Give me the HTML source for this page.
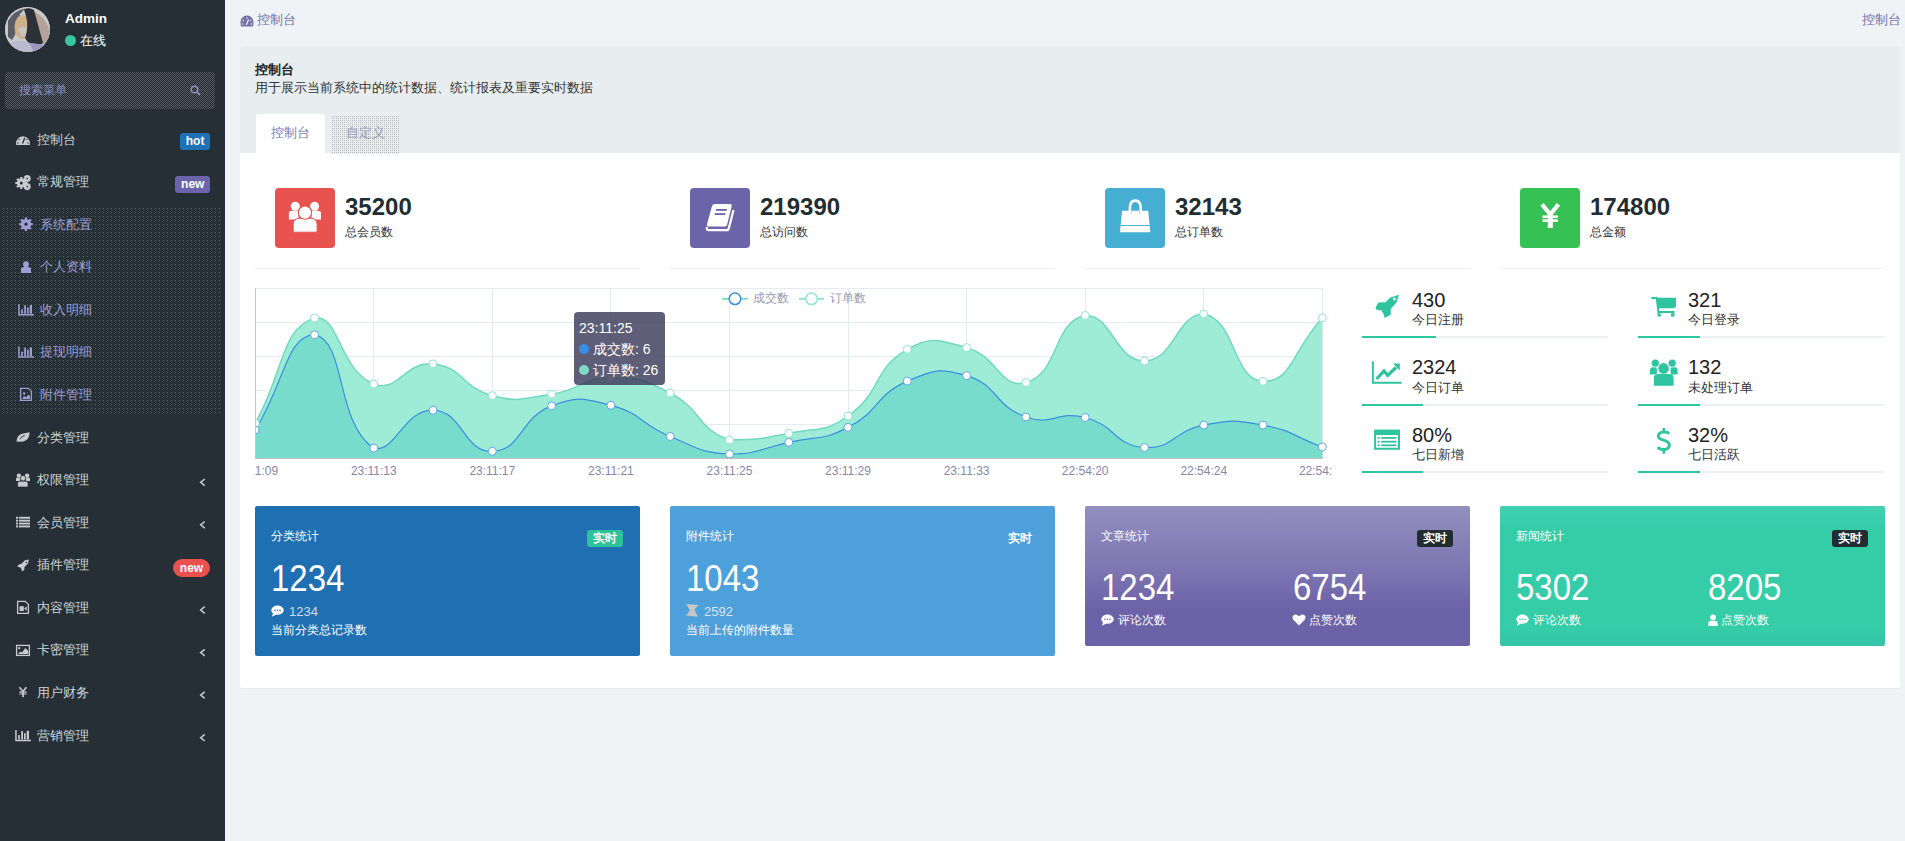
<!DOCTYPE html>
<html><head><meta charset="utf-8"><title>控制台</title><style>
*{box-sizing:border-box;margin:0;padding:0}
html,body{width:1905px;height:841px;overflow:hidden}
body{position:relative;background:#eff3f6;font-family:"Liberation Sans",sans-serif;color:#333;font-size:13px}
.abs{position:absolute}
#side{position:absolute;left:0;top:0;width:225px;height:841px;background:#252f35}
.avatar{left:5px;top:7px;width:45px;height:45px;border-radius:50%;overflow:hidden;background:#b9b6bd}
.uname{left:65px;top:9.5px;font-size:13.5px;font-weight:bold;color:#fff;line-height:18px}
.online{left:65px;top:32px;font-size:13px;color:#fff;line-height:18px}
.online i{display:inline-block;width:11px;height:11px;border-radius:50%;background:#38c6a0;vertical-align:-1px;margin-right:4px}
.search{left:5px;top:72px;width:210px;height:37px;border-radius:4px;overflow:hidden;background:#3b4349}
.search span{position:absolute;left:14px;top:11px;font-size:12px;color:#8a8fbf;line-height:14px}
.mi{position:absolute;left:0;width:225px;height:20px;line-height:20px;font-size:13px;color:#ccd3d6}
.mi .ic{position:absolute;left:16px;top:3px;width:14px;height:14px}
.mi .tx{position:absolute;left:37px;top:0}
.sub{color:#9f9dd3}
.sub .ic{left:19px}
.sub .tx{left:40px}
.badge{position:absolute;right:15px;top:3.5px;height:17px;line-height:17px;padding:0 5.6px;border-radius:3px;font-size:12px;font-weight:bold;color:#fff}
.arr{position:absolute;left:199px;top:4px;width:8px;height:12px}
#subbg{left:0;top:207px;width:225px;height:208px;background:#29343a}
.crumb{left:240px;top:11px;font-size:13px;color:#7470ab;line-height:18px}
.crumbr{right:4.5px;top:11px;font-size:13px;color:#7470ab;line-height:18px}
#panel{left:240px;top:46px;width:1660px;height:642px;background:#fff;border-radius:2px;box-shadow:0 1px 1px rgba(0,0,0,.04)}
#phead{left:0;top:0;width:1660px;height:107px;background:#e8edf0;border-radius:2px 2px 0 0}
.ptitle{left:15px;top:15px;font-size:13px;font-weight:bold;color:#222;line-height:18px}
.pdesc{left:15px;top:32.5px;font-size:13px;color:#333;line-height:18px}
.tab1{left:16px;top:68px;width:69px;height:39px;background:#fff;border-radius:3px 3px 0 0}
.tab2{left:91px;top:68.5px;width:69px;height:38.5px;background:#e1e4e8}
.tab1 span,.tab2 span{position:absolute;left:15px;top:12px;font-size:13px;line-height:14px;color:#7c79b5}
.tab2 span{color:#9a98b8;top:11.5px}
.sbox{width:60px;height:60px;border-radius:4px}
.snum{font-size:24px;font-weight:bold;color:#222d32;line-height:28px}
.slab{font-size:12px;color:#333;line-height:14px}
.sline{height:1px;background:#eef1f4}
.rnum{font-size:20px;color:#222;line-height:22px}
.rlab{font-size:13px;color:#333;line-height:16px}
.pbar{height:2px;background:#eef1f4}
.pbar i{position:absolute;left:0;top:0;height:2px;background:#2ec7a2}
.card{border-radius:2px;color:#fff}
.ctitle{position:absolute;left:16px;top:23px;font-size:12px;line-height:14px}
.cbig{position:absolute;font-size:33px;line-height:36px;transform:scaleY(1.12);transform-origin:0 0}
.csm{position:absolute;font-size:13px;line-height:16px}
.cbadge{position:absolute;width:36px;height:17px;line-height:17px;text-align:center;border-radius:3px;font-size:12px;font-weight:bold}
.axl{position:absolute;top:463.5px;font-size:12px;color:#8786ab;line-height:14px;width:80px;text-align:center}
</style></head>
<body>
<div id="side"><div class="abs avatar"><svg width="45" height="45" viewBox="0 0 45 45"><rect width="45" height="45" fill="#c9c9cb"/><path d="M3,14 Q8,4 20,1.5 L15,7 L10,28 L7,33 L3,30 Z" fill="#5a5d66"/><path d="M28,4 Q40,9 45,24 L45,38 L39,41 L33,24 Z" fill="#b3a39a"/><ellipse cx="17.5" cy="20" rx="8" ry="12" fill="#cdb08c"/><path d="M19,2.5 Q24,0 29,3 L38,36 L35,38 L24,37 L20,31 Q24,20 21,9 Z" fill="#2b3137"/><path d="M13,22 Q17,18 22,21 L20,30 Q15,30 13,22 Z" fill="#c9c3c0"/><path d="M4,37 Q14,31 25,36 L41,38 Q40,45 28,46 L8,46 Z" fill="#bcbad0"/><path d="M24,36 L30,46 L36,46 L38,38 Z" fill="#9c97c0"/></svg></div><div class="abs uname">Admin</div><div class="abs online"><i></i>在线</div><div class="abs search"><svg style="position:absolute;left:0;top:0" width="210" height="37"><defs><pattern id="pc" width="2" height="2" patternUnits="userSpaceOnUse"><rect width="2" height="2" fill="#20292e"/><rect x="1" y="0" width="1" height="1" fill="#565c63"/><rect x="0" y="1" width="1" height="1" fill="#565c63"/></pattern></defs><rect width="210" height="37" fill="url(#pc)"/></svg><span>搜索菜单</span><svg style="position:absolute;left:185px;top:13px" width="11" height="11" viewBox="0 0 11 11"><circle cx="4.5" cy="4.5" r="3.3" fill="none" stroke="#8a8fbf" stroke-width="1.5"/><path d="M7 7 L10 10" stroke="#8a8fbf" stroke-width="1.8"/></svg></div><svg class="abs" style="left:0;top:207px" width="225" height="208"><defs><pattern id="pd" width="4" height="4" patternUnits="userSpaceOnUse"><rect width="4" height="4" fill="#263137"/><rect x="3" y="1" width="1" height="1" fill="#5a6367"/></pattern></defs><rect x="0" y="0" width="222" height="208" fill="url(#pd)"/></svg><div class="mi " style="top:129.5px"><span class="tx">控制台</span><span class="badge" style="background:#1e71b5;right:15px">hot</span></div><div class="mi " style="top:172.1px"><span class="tx">常规管理</span><span class="badge" style="background:#6c64ab;right:15px">new</span></div><div class="mi sub" style="top:214.6px"><span class="tx">系统配置</span></div><div class="mi sub" style="top:257.2px"><span class="tx">个人资料</span></div><div class="mi sub" style="top:299.8px"><span class="tx">收入明细</span></div><div class="mi sub" style="top:342.4px"><span class="tx">提现明细</span></div><div class="mi sub" style="top:384.9px"><span class="tx">附件管理</span></div><div class="mi " style="top:427.5px"><span class="tx">分类管理</span></div><div class="mi " style="top:470.1px"><span class="tx">权限管理</span></div><div class="mi " style="top:512.6px"><span class="tx">会员管理</span></div><div class="mi " style="top:555.2px"><span class="tx">插件管理</span><span class="badge" style="background:#e9504e;border-radius:9px;right:15px;width:37px;height:18px;line-height:18px;top:4px;text-align:center;padding:0">new</span></div><div class="mi " style="top:597.8px"><span class="tx">内容管理</span></div><div class="mi " style="top:640.4px"><span class="tx">卡密管理</span></div><div class="mi " style="top:682.9px"><span class="tx">用户财务</span></div><div class="mi " style="top:725.5px"><span class="tx">营销管理</span></div><svg class="abs" style="left:0;top:0" width="225" height="841" viewBox="0 0 225 841"><path d="M16.2,145 A7,7 0 1,1 29.8,145 Z" fill="#c4ccd0"/><path d="M22.5,143.5 L24.8,137.8" stroke="#252f35" stroke-width="1.3"/><circle cx="19" cy="139.5" r="0.7" fill="#252f35"/><circle cx="27" cy="139.5" r="0.7" fill="#252f35"/><circle cx="18" cy="143" r="0.7" fill="#252f35"/><circle cx="28" cy="143" r="0.7" fill="#252f35"/><circle cx="21.3" cy="183" r="4.4" fill="#c4ccd0"/><rect x="20.20" y="177.00" width="2.2" height="2.6" fill="#c4ccd0" transform="rotate(0 21.3 183)"/><rect x="20.20" y="177.00" width="2.2" height="2.6" fill="#c4ccd0" transform="rotate(45 21.3 183)"/><rect x="20.20" y="177.00" width="2.2" height="2.6" fill="#c4ccd0" transform="rotate(90 21.3 183)"/><rect x="20.20" y="177.00" width="2.2" height="2.6" fill="#c4ccd0" transform="rotate(135 21.3 183)"/><rect x="20.20" y="177.00" width="2.2" height="2.6" fill="#c4ccd0" transform="rotate(180 21.3 183)"/><rect x="20.20" y="177.00" width="2.2" height="2.6" fill="#c4ccd0" transform="rotate(225 21.3 183)"/><rect x="20.20" y="177.00" width="2.2" height="2.6" fill="#c4ccd0" transform="rotate(270 21.3 183)"/><rect x="20.20" y="177.00" width="2.2" height="2.6" fill="#c4ccd0" transform="rotate(315 21.3 183)"/><circle cx="21.3" cy="183" r="1.5" fill="#252f35"/><circle cx="27.2" cy="178.6" r="2.0" fill="#c4ccd0"/><rect x="26.10" y="175.00" width="2.2" height="2.6" fill="#c4ccd0" transform="rotate(0 27.2 178.6)"/><rect x="26.10" y="175.00" width="2.2" height="2.6" fill="#c4ccd0" transform="rotate(45 27.2 178.6)"/><rect x="26.10" y="175.00" width="2.2" height="2.6" fill="#c4ccd0" transform="rotate(90 27.2 178.6)"/><rect x="26.10" y="175.00" width="2.2" height="2.6" fill="#c4ccd0" transform="rotate(135 27.2 178.6)"/><rect x="26.10" y="175.00" width="2.2" height="2.6" fill="#c4ccd0" transform="rotate(180 27.2 178.6)"/><rect x="26.10" y="175.00" width="2.2" height="2.6" fill="#c4ccd0" transform="rotate(225 27.2 178.6)"/><rect x="26.10" y="175.00" width="2.2" height="2.6" fill="#c4ccd0" transform="rotate(270 27.2 178.6)"/><rect x="26.10" y="175.00" width="2.2" height="2.6" fill="#c4ccd0" transform="rotate(315 27.2 178.6)"/><circle cx="27.2" cy="178.6" r="0.8" fill="#252f35"/><circle cx="27.2" cy="186.6" r="2.0" fill="#c4ccd0"/><rect x="26.10" y="183.00" width="2.2" height="2.6" fill="#c4ccd0" transform="rotate(0 27.2 186.6)"/><rect x="26.10" y="183.00" width="2.2" height="2.6" fill="#c4ccd0" transform="rotate(45 27.2 186.6)"/><rect x="26.10" y="183.00" width="2.2" height="2.6" fill="#c4ccd0" transform="rotate(90 27.2 186.6)"/><rect x="26.10" y="183.00" width="2.2" height="2.6" fill="#c4ccd0" transform="rotate(135 27.2 186.6)"/><rect x="26.10" y="183.00" width="2.2" height="2.6" fill="#c4ccd0" transform="rotate(180 27.2 186.6)"/><rect x="26.10" y="183.00" width="2.2" height="2.6" fill="#c4ccd0" transform="rotate(225 27.2 186.6)"/><rect x="26.10" y="183.00" width="2.2" height="2.6" fill="#c4ccd0" transform="rotate(270 27.2 186.6)"/><rect x="26.10" y="183.00" width="2.2" height="2.6" fill="#c4ccd0" transform="rotate(315 27.2 186.6)"/><circle cx="27.2" cy="186.6" r="0.8" fill="#252f35"/><circle cx="26" cy="224.2" r="5.2" fill="#9f9dd3"/><rect x="24.90" y="217.40" width="2.2" height="2.6" fill="#9f9dd3" transform="rotate(0 26 224.2)"/><rect x="24.90" y="217.40" width="2.2" height="2.6" fill="#9f9dd3" transform="rotate(45 26 224.2)"/><rect x="24.90" y="217.40" width="2.2" height="2.6" fill="#9f9dd3" transform="rotate(90 26 224.2)"/><rect x="24.90" y="217.40" width="2.2" height="2.6" fill="#9f9dd3" transform="rotate(135 26 224.2)"/><rect x="24.90" y="217.40" width="2.2" height="2.6" fill="#9f9dd3" transform="rotate(180 26 224.2)"/><rect x="24.90" y="217.40" width="2.2" height="2.6" fill="#9f9dd3" transform="rotate(225 26 224.2)"/><rect x="24.90" y="217.40" width="2.2" height="2.6" fill="#9f9dd3" transform="rotate(270 26 224.2)"/><rect x="24.90" y="217.40" width="2.2" height="2.6" fill="#9f9dd3" transform="rotate(315 26 224.2)"/><circle cx="26" cy="224.2" r="1.6" fill="#263137"/><circle cx="26" cy="264.2" r="2.9" fill="#9f9dd3"/><path d="M21,273 V269.8 Q21,267 23.8,267 H28.2 Q31,267 31,269.8 V273 Z" fill="#9f9dd3"/><path d="M18.95,304.2 V314.7 H34" fill="none" stroke="#9f9dd3" stroke-width="1.5"/><rect x="21.1" y="309.3" width="1.7" height="4.4" fill="#9f9dd3"/><rect x="24.2" y="305.3" width="1.8" height="8.4" fill="#9f9dd3"/><rect x="27" y="307.4" width="1.7" height="6.3" fill="#9f9dd3"/><rect x="29.7" y="305.0" width="2.3" height="8.7" fill="#9f9dd3"/><path d="M18.95,346.6 V357.1 H34" fill="none" stroke="#9f9dd3" stroke-width="1.5"/><rect x="21.1" y="351.70000000000005" width="1.7" height="4.4" fill="#9f9dd3"/><rect x="24.2" y="347.70000000000005" width="1.8" height="8.4" fill="#9f9dd3"/><rect x="27" y="349.8" width="1.7" height="6.3" fill="#9f9dd3"/><rect x="29.7" y="347.40000000000003" width="2.3" height="8.7" fill="#9f9dd3"/><path d="M20.7,388.4 H28.4 L31.4,391.4 V400.4 H20.7 Z" fill="none" stroke="#9f9dd3" stroke-width="1.3"/><circle cx="24.2" cy="393.5" r="1.2" fill="#9f9dd3"/><path d="M22,399 L24.5,396 L26,397.3 L28.5,394.5 L30,396 V399 Z" fill="#9f9dd3"/><path d="M16.5,441.8 Q17,435 22,433.8 Q26,433 29.6,432.3 Q29.5,438 26,440.3 Q22,442.5 17.6,441.5 Z" fill="#c4ccd0"/><path d="M19.5,439 Q22,436.5 24.7,435.3" fill="none" stroke="#252f35" stroke-width="0.9"/><circle cx="18.9" cy="475.6" r="2.2" fill="#c4ccd0"/><circle cx="27.1" cy="475.6" r="2.2" fill="#c4ccd0"/><path d="M16,481 V479 Q16,477.6 17.4,477.6 H20 V481 Z M30,481 V479 Q30,477.6 28.6,477.6 H26 V481 Z" fill="#c4ccd0"/><path d="M17.6,487 V483.2 Q17.6,481.2 19.6,481.2 H26 Q28,481.2 28,483.2 V487 Z" fill="#c4ccd0" stroke="#252f35" stroke-width="0.7"/><circle cx="23" cy="478.2" r="2.7" fill="#c4ccd0" stroke="#252f35" stroke-width="0.7"/><rect x="16" y="516.8" width="2.2" height="1.9" fill="#c4ccd0"/><rect x="19" y="516.8" width="11" height="1.9" fill="#c4ccd0"/><rect x="16" y="519.7" width="2.2" height="1.9" fill="#c4ccd0"/><rect x="19" y="519.7" width="11" height="1.9" fill="#c4ccd0"/><rect x="16" y="522.6" width="2.2" height="1.9" fill="#c4ccd0"/><rect x="19" y="522.6" width="11" height="1.9" fill="#c4ccd0"/><rect x="16" y="525.5" width="2.2" height="1.9" fill="#c4ccd0"/><rect x="19" y="525.5" width="11" height="1.9" fill="#c4ccd0"/><path d="M28.8,559.5 L28.2,563.3 L24.5,567 L24.3,569.8 L22.1,571.6 L21.2,568.5 L19.8,567.3 L17.1,566.4 L19,564.5 L21.5,563.8 L24.8,560.3 Z" fill="#c4ccd0"/><circle cx="26.4" cy="562.2" r="0.8" fill="#252f35"/><path d="M17.6,601.3 H25.3 L28.4,604.4 V613.4 H17.6 Z" fill="none" stroke="#c4ccd0" stroke-width="1.3"/><rect x="19.6" y="606.2" width="4.2" height="4.8" fill="#c4ccd0"/><path d="M24.2,608.6 L26.7,606.2 V611 Z" fill="#c4ccd0"/><rect x="16.6" y="645.4" width="12.8" height="10" fill="none" stroke="#c4ccd0" stroke-width="1.3"/><circle cx="19.2" cy="648.2" r="1.1" fill="#c4ccd0"/><path d="M18,654 L20.5,651.6 L22,652.4 L25.3,648 L28.3,651 V654 Z" fill="#c4ccd0"/><path d="M19.4,687.3 L23,691.6 L26.4,687.3" fill="none" stroke="#c4ccd0" stroke-width="1.6"/><path d="M19.3,692.2 H26.7 M19.3,694 H26.7" stroke="#c4ccd0" stroke-width="1.2"/><rect x="22.2" y="691" width="1.7" height="6.2" fill="#c4ccd0"/><path d="M15.95,730 V740.5 H31" fill="none" stroke="#c4ccd0" stroke-width="1.5"/><rect x="18.1" y="735.1" width="1.7" height="4.4" fill="#c4ccd0"/><rect x="21.2" y="731.1" width="1.8" height="8.4" fill="#c4ccd0"/><rect x="24" y="733.2" width="1.7" height="6.3" fill="#c4ccd0"/><rect x="26.7" y="730.8" width="2.3" height="8.7" fill="#c4ccd0"/><path d="M204.7,479.0 L200.7,482.3 L204.7,485.6" fill="none" stroke="#c4ccd0" stroke-width="1.5"/><path d="M204.7,521.5 L200.7,524.8 L204.7,528.1" fill="none" stroke="#c4ccd0" stroke-width="1.5"/><path d="M204.7,606.7 L200.7,610.0 L204.7,613.3" fill="none" stroke="#c4ccd0" stroke-width="1.5"/><path d="M204.7,649.3 L200.7,652.6 L204.7,655.9" fill="none" stroke="#c4ccd0" stroke-width="1.5"/><path d="M204.7,691.8 L200.7,695.1 L204.7,698.4" fill="none" stroke="#c4ccd0" stroke-width="1.5"/><path d="M204.7,734.4 L200.7,737.7 L204.7,741.0" fill="none" stroke="#c4ccd0" stroke-width="1.5"/></svg></div>
<div class="abs crumb"><svg width="14" height="12" viewBox="0 0 14 12" style="position:absolute;left:0;top:4px"><path d="M7,0.5 A6.6,6.6 0 0 0 0.6,8 A6.6,6.6 0 0 0 1.2,11.5 L12.8,11.5 A6.6,6.6 0 0 0 13.4,8 A6.6,6.6 0 0 0 7,0.5 Z" fill="#7470ab"/><path d="M6.3,10 L8.6,4.5" stroke="#eef2f5" stroke-width="1.3"/><circle cx="3.3" cy="5.5" r="0.8" fill="#eef2f5"/><circle cx="10.7" cy="5.5" r="0.8" fill="#eef2f5"/><circle cx="2.6" cy="9" r="0.8" fill="#eef2f5"/><circle cx="11.4" cy="9" r="0.8" fill="#eef2f5"/><circle cx="7" cy="3" r="0.8" fill="#eef2f5"/></svg><span style="position:absolute;left:17px;top:0;white-space:nowrap">控制台</span></div><div class="abs crumbr">控制台</div><div class="abs" id="panel"><div class="abs" id="phead"><div class="abs ptitle">控制台</div><div class="abs pdesc">用于展示当前系统中的统计数据、统计报表及重要实时数据</div><div class="abs tab1"><span>控制台</span></div><div class="abs tab2"><svg style="position:absolute;left:0;top:0" width="69" height="39"><defs><pattern id="pt" width="2" height="2" patternUnits="userSpaceOnUse"><rect width="2" height="2" fill="#e8edf0"/><rect x="1" y="1" width="1" height="1" fill="#bcbdbe"/></pattern></defs><rect width="69" height="39" fill="url(#pt)"/></svg><span>自定义</span></div></div></div><div class="abs sbox" style="left:275px;top:188px;background:#e8534f"><svg width="60" height="60" viewBox="0 0 60 60"><circle cx="20.3" cy="18.2" r="4.5" fill="#fff"/><circle cx="39.6" cy="18.2" r="4.5" fill="#fff"/><path d="M13.9,31.4 V25.5 Q13.9,22.8 16.5,22.8 H23.5 V31.4 Z M46,31.4 V25.5 Q46,22.8 43.4,22.8 H36.5 V31.4 Z" fill="#fff"/><path d="M18.2,44.2 V36.5 Q18.2,30.3 24.5,30.3 H35.8 Q42.1,30.3 42.1,36.5 V44.2 Z" fill="#fff" stroke="#e8534f" stroke-width="1"/><circle cx="30" cy="24.6" r="6.6" fill="#fff" stroke="#e8534f" stroke-width="1.1"/></svg></div><div class="abs snum" style="left:345px;top:192.5px">35200</div><div class="abs slab" style="left:345px;top:225px">总会员数</div><div class="abs sline" style="left:255px;top:268px;width:385px"></div><div class="abs sbox" style="left:690px;top:188px;background:#6c64a9"><svg width="60" height="60" viewBox="0 0 60 60"><path d="M43.5,22 L38.9,40 L37.8,42.1 H19 Q16,42.1 17,39" fill="none" stroke="#fff" stroke-width="2.2"/><path d="M25,16 H40 Q42.2,16 41.6,18.5 L37.1,36.8 Q36.8,38.5 35,38.5 H18.5 Q16.3,38.5 17,36.2 L22,18 Q22.6,16 25,16 Z" fill="#fff"/><path d="M18,40.2 H37" stroke="#6c64a9" stroke-width="1.4"/><rect x="26" y="21" width="10.8" height="1.8" fill="#6c64a9"/><rect x="24.6" y="25.2" width="10.7" height="1.8" fill="#6c64a9"/></svg></div><div class="abs snum" style="left:760px;top:192.5px">219390</div><div class="abs slab" style="left:760px;top:225px">总访问数</div><div class="abs sline" style="left:670px;top:268px;width:385px"></div><div class="abs sbox" style="left:1105px;top:188px;background:#45aed2"><svg width="60" height="60" viewBox="0 0 60 60"><path d="M24.9,25.7 V20 Q24.9,12.6 30.3,12.6 Q35.7,12.6 35.7,20 V25.7" fill="none" stroke="#fff" stroke-width="2.6"/><path d="M17.1,22.8 H24 V25.7 H26.5 V22.8 H34 V25.7 H36.5 V22.8 H43.2 L45.3,44.2 H15 Z" fill="#fff"/><rect x="15.5" y="37" width="29.5" height="1" fill="#45b8c8"/></svg></div><div class="abs snum" style="left:1175px;top:192.5px">32143</div><div class="abs slab" style="left:1175px;top:225px">总订单数</div><div class="abs sline" style="left:1085px;top:268px;width:385px"></div><div class="abs sbox" style="left:1520px;top:188px;background:#36c155"><svg width="60" height="60" viewBox="0 0 60 60"><path d="M22,16.4 L30.3,26.5 L38.4,16.4" fill="none" stroke="#fff" stroke-width="4.2"/><rect x="27.8" y="25" width="5" height="15" fill="#fff"/><rect x="22.5" y="27.4" width="15.3" height="2.6" fill="#fff"/><rect x="22.5" y="31.3" width="15.3" height="2.6" fill="#fff"/></svg></div><div class="abs snum" style="left:1590px;top:192.5px">174800</div><div class="abs slab" style="left:1590px;top:225px">总金额</div><div class="abs sline" style="left:1500px;top:268px;width:385px"></div><svg class="abs" style="left:0;top:0" width="1905" height="841" viewBox="0 0 1905 841"><defs><clipPath id="cc"><rect x="255" y="280" width="1077" height="200"/></clipPath></defs><g clip-path="url(#cc)"><line x1="255" y1="288.5" x2="1323" y2="288.5" stroke="#e6ebf0" stroke-width="1"/><line x1="255" y1="322.5" x2="1323" y2="322.5" stroke="#e6ebf0" stroke-width="1"/><line x1="255" y1="356.5" x2="1323" y2="356.5" stroke="#e6ebf0" stroke-width="1"/><line x1="255" y1="390.5" x2="1323" y2="390.5" stroke="#e6ebf0" stroke-width="1"/><line x1="255" y1="424.5" x2="1323" y2="424.5" stroke="#e6ebf0" stroke-width="1"/><line x1="255" y1="458.5" x2="1323" y2="458.5" stroke="#e6ebf0" stroke-width="1"/><line x1="255.5" y1="288" x2="255.5" y2="458.5" stroke="#e6ebf0" stroke-width="1"/><line x1="373.5" y1="288" x2="373.5" y2="458.5" stroke="#e6ebf0" stroke-width="1"/><line x1="492.5" y1="288" x2="492.5" y2="458.5" stroke="#e6ebf0" stroke-width="1"/><line x1="610.5" y1="288" x2="610.5" y2="458.5" stroke="#e6ebf0" stroke-width="1"/><line x1="729.5" y1="288" x2="729.5" y2="458.5" stroke="#e6ebf0" stroke-width="1"/><line x1="848.5" y1="288" x2="848.5" y2="458.5" stroke="#e6ebf0" stroke-width="1"/><line x1="966.5" y1="288" x2="966.5" y2="458.5" stroke="#e6ebf0" stroke-width="1"/><line x1="1085.5" y1="288" x2="1085.5" y2="458.5" stroke="#e6ebf0" stroke-width="1"/><line x1="1203.5" y1="288" x2="1203.5" y2="458.5" stroke="#e6ebf0" stroke-width="1"/><line x1="1322.5" y1="288" x2="1322.5" y2="458.5" stroke="#e6ebf0" stroke-width="1"/><path d="M255.2,423.4 C284.8,370.6 280.3,329.3 314.5,317.9 C339.6,314.1 339.0,370.5 373.8,384.0 C398.3,393.5 404.5,361.1 433.0,363.9 C463.8,366.9 460.8,387.6 492.3,395.7 C520.1,402.8 522.5,398.5 551.6,394.2 C581.8,389.7 581.2,378.3 610.9,378.0 C640.5,377.7 643.7,379.1 670.2,393.0 C703.0,410.1 696.3,428.7 729.5,440.0 C755.6,440.0 759.6,439.2 788.8,433.3 C818.9,427.2 823.8,433.2 848.0,416.0 C883.1,391.2 871.7,369.8 907.3,349.3 C931.0,335.6 939.2,339.9 966.6,347.6 C998.4,356.5 1000.1,389.6 1025.9,382.6 C1059.4,373.5 1052.9,321.4 1085.2,315.5 C1112.1,314.1 1115.0,361.3 1144.5,361.0 C1174.3,360.6 1176.6,314.1 1203.7,314.1 C1235.9,319.6 1232.9,380.4 1263.0,381.4 C1292.2,382.3 1292.7,349.6 1322.3,317.9 L1322.3,458.3 L255.2,458.3 Z" fill="#9eecd6"/>
<path d="M255.2,430.0 C284.8,382.4 286.8,334.8 314.5,334.8 C346.1,339.6 335.5,423.8 373.8,448.1 C394.8,454.0 403.8,409.4 433.0,410.2 C463.1,411.0 463.2,452.4 492.3,451.3 C522.5,450.2 518.6,418.7 551.6,405.9 C577.9,395.7 583.1,398.1 610.9,405.3 C642.4,413.4 639.3,423.8 670.2,436.5 C698.6,448.2 699.5,452.5 729.5,454.0 C758.8,454.0 759.3,448.9 788.8,442.3 C818.6,435.6 821.5,441.1 848.0,427.4 C880.7,410.5 874.2,395.6 907.3,381.1 C933.5,369.7 939.8,367.5 966.6,375.6 C999.1,385.4 993.3,405.5 1025.9,417.0 C1052.6,426.4 1057.2,410.3 1085.2,417.5 C1116.5,425.6 1114.1,445.6 1144.5,447.5 C1173.4,449.4 1173.1,430.9 1203.7,425.1 C1232.4,419.7 1234.3,419.8 1263.0,425.1 C1293.6,430.8 1292.7,436.1 1322.3,447.0 L1322.3,458.3 L255.2,458.3 Z" fill="#77dccb"/>
<path d="M255.2,423.4 C284.8,370.6 280.3,329.3 314.5,317.9 C339.6,314.1 339.0,370.5 373.8,384.0 C398.3,393.5 404.5,361.1 433.0,363.9 C463.8,366.9 460.8,387.6 492.3,395.7 C520.1,402.8 522.5,398.5 551.6,394.2 C581.8,389.7 581.2,378.3 610.9,378.0 C640.5,377.7 643.7,379.1 670.2,393.0 C703.0,410.1 696.3,428.7 729.5,440.0 C755.6,440.0 759.6,439.2 788.8,433.3 C818.9,427.2 823.8,433.2 848.0,416.0 C883.1,391.2 871.7,369.8 907.3,349.3 C931.0,335.6 939.2,339.9 966.6,347.6 C998.4,356.5 1000.1,389.6 1025.9,382.6 C1059.4,373.5 1052.9,321.4 1085.2,315.5 C1112.1,314.1 1115.0,361.3 1144.5,361.0 C1174.3,360.6 1176.6,314.1 1203.7,314.1 C1235.9,319.6 1232.9,380.4 1263.0,381.4 C1292.2,382.3 1292.7,349.6 1322.3,317.9" fill="none" stroke="#6fd8c0" stroke-width="1.5"/>
<path d="M255.2,430.0 C284.8,382.4 286.8,334.8 314.5,334.8 C346.1,339.6 335.5,423.8 373.8,448.1 C394.8,454.0 403.8,409.4 433.0,410.2 C463.1,411.0 463.2,452.4 492.3,451.3 C522.5,450.2 518.6,418.7 551.6,405.9 C577.9,395.7 583.1,398.1 610.9,405.3 C642.4,413.4 639.3,423.8 670.2,436.5 C698.6,448.2 699.5,452.5 729.5,454.0 C758.8,454.0 759.3,448.9 788.8,442.3 C818.6,435.6 821.5,441.1 848.0,427.4 C880.7,410.5 874.2,395.6 907.3,381.1 C933.5,369.7 939.8,367.5 966.6,375.6 C999.1,385.4 993.3,405.5 1025.9,417.0 C1052.6,426.4 1057.2,410.3 1085.2,417.5 C1116.5,425.6 1114.1,445.6 1144.5,447.5 C1173.4,449.4 1173.1,430.9 1203.7,425.1 C1232.4,419.7 1234.3,419.8 1263.0,425.1 C1293.6,430.8 1292.7,436.1 1322.3,447.0" fill="none" stroke="#3c8fe0" stroke-width="1.2"/>
<circle cx="255.2" cy="423.4" r="4" fill="#fff" stroke="#8fe5cf" stroke-width="1"/>
<circle cx="314.5" cy="317.9" r="4" fill="#fff" stroke="#8fe5cf" stroke-width="1"/>
<circle cx="373.8" cy="384.0" r="4" fill="#fff" stroke="#8fe5cf" stroke-width="1"/>
<circle cx="433.0" cy="363.9" r="4" fill="#fff" stroke="#8fe5cf" stroke-width="1"/>
<circle cx="492.3" cy="395.7" r="4" fill="#fff" stroke="#8fe5cf" stroke-width="1"/>
<circle cx="551.6" cy="394.2" r="4" fill="#fff" stroke="#8fe5cf" stroke-width="1"/>
<circle cx="610.9" cy="378.0" r="4" fill="#fff" stroke="#8fe5cf" stroke-width="1"/>
<circle cx="670.2" cy="393.0" r="4" fill="#fff" stroke="#8fe5cf" stroke-width="1"/>
<circle cx="729.5" cy="440.0" r="4" fill="#fff" stroke="#8fe5cf" stroke-width="1"/>
<circle cx="788.8" cy="433.3" r="4" fill="#fff" stroke="#8fe5cf" stroke-width="1"/>
<circle cx="848.0" cy="416.0" r="4" fill="#fff" stroke="#8fe5cf" stroke-width="1"/>
<circle cx="907.3" cy="349.3" r="4" fill="#fff" stroke="#8fe5cf" stroke-width="1"/>
<circle cx="966.6" cy="347.6" r="4" fill="#fff" stroke="#8fe5cf" stroke-width="1"/>
<circle cx="1025.9" cy="382.6" r="4" fill="#fff" stroke="#8fe5cf" stroke-width="1"/>
<circle cx="1085.2" cy="315.5" r="4" fill="#fff" stroke="#8fe5cf" stroke-width="1"/>
<circle cx="1144.5" cy="361.0" r="4" fill="#fff" stroke="#8fe5cf" stroke-width="1"/>
<circle cx="1203.7" cy="314.1" r="4" fill="#fff" stroke="#8fe5cf" stroke-width="1"/>
<circle cx="1263.0" cy="381.4" r="4" fill="#fff" stroke="#8fe5cf" stroke-width="1"/>
<circle cx="1322.3" cy="317.9" r="4" fill="#fff" stroke="#8fe5cf" stroke-width="1"/>
<circle cx="255.2" cy="430.0" r="4" fill="#fff" stroke="#5aa8e8" stroke-width="1"/>
<circle cx="314.5" cy="334.8" r="4" fill="#fff" stroke="#5aa8e8" stroke-width="1"/>
<circle cx="373.8" cy="448.1" r="4" fill="#fff" stroke="#5aa8e8" stroke-width="1"/>
<circle cx="433.0" cy="410.2" r="4" fill="#fff" stroke="#5aa8e8" stroke-width="1"/>
<circle cx="492.3" cy="451.3" r="4" fill="#fff" stroke="#5aa8e8" stroke-width="1"/>
<circle cx="551.6" cy="405.9" r="4" fill="#fff" stroke="#5aa8e8" stroke-width="1"/>
<circle cx="610.9" cy="405.3" r="4" fill="#fff" stroke="#5aa8e8" stroke-width="1"/>
<circle cx="670.2" cy="436.5" r="4" fill="#fff" stroke="#5aa8e8" stroke-width="1"/>
<circle cx="729.5" cy="454.0" r="4" fill="#fff" stroke="#5aa8e8" stroke-width="1"/>
<circle cx="788.8" cy="442.3" r="4" fill="#fff" stroke="#5aa8e8" stroke-width="1"/>
<circle cx="848.0" cy="427.4" r="4" fill="#fff" stroke="#5aa8e8" stroke-width="1"/>
<circle cx="907.3" cy="381.1" r="4" fill="#fff" stroke="#5aa8e8" stroke-width="1"/>
<circle cx="966.6" cy="375.6" r="4" fill="#fff" stroke="#5aa8e8" stroke-width="1"/>
<circle cx="1025.9" cy="417.0" r="4" fill="#fff" stroke="#5aa8e8" stroke-width="1"/>
<circle cx="1085.2" cy="417.5" r="4" fill="#fff" stroke="#5aa8e8" stroke-width="1"/>
<circle cx="1144.5" cy="447.5" r="4" fill="#fff" stroke="#5aa8e8" stroke-width="1"/>
<circle cx="1203.7" cy="425.1" r="4" fill="#fff" stroke="#5aa8e8" stroke-width="1"/>
<circle cx="1263.0" cy="425.1" r="4" fill="#fff" stroke="#5aa8e8" stroke-width="1"/>
<circle cx="1322.3" cy="447.0" r="4" fill="#fff" stroke="#5aa8e8" stroke-width="1"/><line x1="255" y1="458.5" x2="1322.3" y2="458.5" stroke="#c4bebe" stroke-width="1"/><line x1="255.5" y1="288" x2="255.5" y2="459" stroke="#c4c4c4" stroke-width="1"/></g><line x1="722" y1="298.8" x2="748" y2="298.8" stroke="#7fdcc4" stroke-width="2"/><circle cx="735" cy="298.8" r="5.8" fill="#fff" stroke="#3a8ee6" stroke-width="1.5"/><line x1="799" y1="298.8" x2="824" y2="298.8" stroke="#8fe5cf" stroke-width="2"/><circle cx="811.5" cy="298.8" r="5.8" fill="#fff" stroke="#8fe5cf" stroke-width="1.5"/></svg><div class="abs" style="left:753px;top:291px;font-size:12px;line-height:14px;color:#9a9ab0">成交数</div><div class="abs" style="left:830px;top:291px;font-size:12px;line-height:14px;color:#9a9ab0">订单数</div><div class="abs" style="left:255px;top:0;width:1077px;height:841px;overflow:hidden"><div class="axl" style="left:-39.8px">23:11:09</div><div class="axl" style="left:78.8px">23:11:13</div><div class="axl" style="left:197.3px">23:11:17</div><div class="axl" style="left:315.9px">23:11:21</div><div class="axl" style="left:434.5px">23:11:25</div><div class="axl" style="left:553.0px">23:11:29</div><div class="axl" style="left:671.6px">23:11:33</div><div class="axl" style="left:790.2px">22:54:20</div><div class="axl" style="left:908.8px">22:54:24</div><div class="axl" style="left:1027.3px">22:54:28</div></div><div class="abs" style="left:574px;top:312px;width:91px;height:73px;background:rgba(60,58,90,.82);border-radius:4px;color:#fff;font-size:14px;line-height:21px;padding:5.5px 5px">23:11:25<br><i style="display:inline-block;width:10px;height:10px;border-radius:50%;background:#3a8ee6;margin-right:4px"></i>成交数: 6<br><i style="display:inline-block;width:10px;height:10px;border-radius:50%;background:#7fdcc4;margin-right:4px"></i>订单数: 26</div><svg class="abs" style="left:1366px;top:285px" width="40" height="40" viewBox="0 0 40 40"><path d="M33,9.8 L30.5,17.6 L24.8,24 L24.8,29.8 L18.6,33 L17.8,29.5 L15.5,25.5 L10,24.5 L9.6,22.5 L12.4,17.4 L19.5,17.2 L24.3,12.4 Z" fill="#2ec4a0"/><circle cx="28.4" cy="14" r="1.4" fill="#fff"/></svg><div class="abs rnum" style="left:1412px;top:288.5px">430</div><div class="abs rlab" style="left:1412px;top:312.0px">今日注册</div><div class="abs pbar" style="left:1362px;top:336.0px;width:246px"><i style="width:74px"></i></div><svg class="abs" style="left:1642px;top:285px" width="40" height="40" viewBox="0 0 40 40"><path d="M9.3,13 H14.8 L16.8,31.4" fill="none" stroke="#2ec4a0" stroke-width="2"/><path d="M14.3,12.8 H34 V21.5 L32,23.3 H16 Z" fill="#2ec4a0"/><path d="M16.5,27 H31.5 V31.4" fill="none" stroke="#2ec4a0" stroke-width="1.9"/><rect x="15.8" y="28.5" width="3" height="3" fill="#2ec4a0"/><rect x="29" y="28.5" width="3" height="3" fill="#2ec4a0"/></svg><div class="abs rnum" style="left:1688px;top:288.5px">321</div><div class="abs rlab" style="left:1688px;top:312.0px">今日登录</div><div class="abs pbar" style="left:1638px;top:336.0px;width:246px"><i style="width:62px"></i></div><svg class="abs" style="left:1366px;top:352px" width="40" height="40" viewBox="0 0 40 40"><path d="M6.9,9.3 V30.8 H35.7" fill="none" stroke="#2ec4a0" stroke-width="1.9"/><path d="M10.5,27 L18,19 L21.7,23.5 L30,15.5" fill="none" stroke="#2ec4a0" stroke-width="3.2"/><path d="M26.9,11.4 H33.8 V18.6 Z" fill="#2ec4a0"/></svg><div class="abs rnum" style="left:1412px;top:356.1px">2324</div><div class="abs rlab" style="left:1412px;top:379.6px">今日订单</div><div class="abs pbar" style="left:1362px;top:403.6px;width:246px"><i style="width:61px"></i></div><svg class="abs" style="left:1642px;top:352px" width="40" height="40" viewBox="0 0 40 40"><circle cx="13.3" cy="11.2" r="3.6" fill="#2ec4a0"/><circle cx="30.2" cy="11.2" r="3.6" fill="#2ec4a0"/><circle cx="21.6" cy="16.4" r="5.3" fill="#2ec4a0"/><path d="M11.9,33.8 V26 Q11.9,22.1 16,22.1 H27.5 Q31.6,22.1 31.6,26 V33.8 Z" fill="#2ec4a0"/><path d="M8,22.4 V18.5 Q8,15.4 10.5,15.2 L14.5,15.5 Q15.8,19.5 14.5,22.4 Z M35.6,22.4 V18.5 Q35.6,15.4 33.1,15.2 L29,15.5 Q27.8,19.5 29,22.4 Z" fill="#2ec4a0"/></svg><div class="abs rnum" style="left:1688px;top:356.1px">132</div><div class="abs rlab" style="left:1688px;top:379.6px">未处理订单</div><div class="abs pbar" style="left:1638px;top:403.6px;width:246px"><i style="width:62px"></i></div><svg class="abs" style="left:1366px;top:420px" width="40" height="40" viewBox="0 0 40 40"><rect x="9.1" y="10.75" width="23.9" height="18" fill="none" stroke="#2ec4a0" stroke-width="2"/><rect x="8.1" y="9.75" width="25.9" height="5.2" rx="1" fill="#2ec4a0"/><rect x="11.7" y="17" width="2" height="1.8" fill="#2ec4a0"/><rect x="15.2" y="17" width="15.3" height="1.8" fill="#2ec4a0"/><rect x="11.7" y="20.8" width="2" height="1.8" fill="#2ec4a0"/><rect x="15.2" y="20.8" width="15.3" height="1.8" fill="#2ec4a0"/><rect x="11.7" y="24.4" width="2" height="1.8" fill="#2ec4a0"/><rect x="15.2" y="24.4" width="15.3" height="1.8" fill="#2ec4a0"/></svg><div class="abs rnum" style="left:1412px;top:423.7px">80%</div><div class="abs rlab" style="left:1412px;top:447.2px">七日新增</div><div class="abs pbar" style="left:1362px;top:471.2px;width:246px"><i style="width:61px"></i></div><svg class="abs" style="left:1642px;top:420px" width="40" height="40" viewBox="0 0 40 40"><path d="M27.2,13.6 C25.2,11.6 16.3,10.8 16.3,16.2 C16.3,21 27.4,19.5 27.4,25 C27.4,30.6 18.2,30.6 15.8,27.2" fill="none" stroke="#2ec4a0" stroke-width="2.9"/><path d="M21.8,7.9 V12 M21.8,29.5 V33.8" stroke="#2ec4a0" stroke-width="2.6"/></svg><div class="abs rnum" style="left:1688px;top:423.7px">32%</div><div class="abs rlab" style="left:1688px;top:447.2px">七日活跃</div><div class="abs pbar" style="left:1638px;top:471.2px;width:246px"><i style="width:62px"></i></div><div class="abs card" style="left:255px;top:506px;width:385px;height:150px;background:#1f70b3"><div class="ctitle">分类统计</div><span class="cbadge" style="left:332px;top:24px;background:#2ec29a">实时</span><div class="cbig" style="left:16px;top:52.5px">1234</div><div class="csm" style="left:16px;top:98px;color:#d3dae6;width:120px"><span style="position:absolute;left:0;top:0"><svg width="13" height="12" viewBox="0 0 13 12" style="position:absolute;left:0;top:1px"><ellipse cx="6.5" cy="5.2" rx="6.2" ry="4.6" fill="#fff"/><path d="M2.2,8 L0.8,11.8 L5.5,9.5 Z" fill="#fff"/><circle cx="4" cy="5.2" r="0.8" fill="#1f70b3"/><circle cx="6.5" cy="5.2" r="0.8" fill="#1f70b3"/><circle cx="9" cy="5.2" r="0.8" fill="#1f70b3"/></svg></span><span style="position:absolute;left:18px;top:0">1234</span></div><div class="csm" style="left:16px;top:116px;font-size:12px">当前分类总记录数</div></div><div class="abs card" style="left:670px;top:506px;width:385px;height:150px;background:#4ea0da"><div class="ctitle">附件统计</div><span class="cbadge" style="left:332px;top:24px">实时</span><div class="cbig" style="left:16px;top:52.5px">1043</div><div class="csm" style="left:16px;top:98px;color:#dce4ee;width:120px"><span style="position:absolute;left:0;top:0"><svg width="13" height="13" viewBox="0 0 13 13" style="position:absolute;left:0;top:0"><path d="M0.3,0 L12.5,1 L8.5,5.5 L11.8,12.8 L0,11.5 L4,6.5 Z" fill="#c9c7c6"/></svg></span><span style="position:absolute;left:18px;top:0">2592</span></div><div class="csm" style="left:16px;top:116px;font-size:12px">当前上传的附件数量</div></div><div class="abs card" style="left:1085px;top:506px;width:385px;height:140px;background:linear-gradient(to bottom,#928fbe 0%,#7f78b3 42%,#6b62a8 74%,#6b62a8 100%)"><div class="ctitle">文章统计</div><span class="cbadge" style="left:332px;top:24px;background:#222d32">实时</span><div class="cbig" style="left:16px;top:61.5px">1234</div><div class="csm" style="left:16px;top:107px;width:120px;height:16px;font-size:12px"><span style="position:absolute;left:0;top:0"><svg width="13" height="12" viewBox="0 0 13 12" style="position:absolute;left:0;top:1px"><ellipse cx="6.5" cy="5.2" rx="6.2" ry="4.6" fill="#fff"/><path d="M2.2,8 L0.8,11.8 L5.5,9.5 Z" fill="#fff"/><circle cx="4" cy="5.2" r="0.8" fill="#6b62a8"/><circle cx="6.5" cy="5.2" r="0.8" fill="#6b62a8"/><circle cx="9" cy="5.2" r="0.8" fill="#6b62a8"/></svg></span><span style="position:absolute;left:17px;top:-1px">评论次数</span></div><div class="cbig" style="left:208px;top:61.5px">6754</div><div class="csm" style="left:207px;top:107px;width:120px;height:16px;font-size:12px"><span style="position:absolute;left:0;top:0"><svg width="14" height="12" viewBox="0 0 14 12" style="position:absolute;left:0;top:1px"><path d="M7,11.5 L1.5,6 Q-0.5,3.5 1.5,1.3 Q4,-0.6 7,2.3 Q10,-0.6 12.5,1.3 Q14.5,3.5 12.5,6 Z" fill="#fff"/></svg></span><span style="position:absolute;left:17px;top:-1px">点赞次数</span></div></div><div class="abs card" style="left:1500px;top:506px;width:385px;height:140px;background:linear-gradient(to bottom,#42d0b0 0%,#35cca8 16%,#35cca8 88%,#34c4a8 100%)"><div class="ctitle">新闻统计</div><span class="cbadge" style="left:332px;top:24px;background:#222d32">实时</span><div class="cbig" style="left:16px;top:61.5px">5302</div><div class="csm" style="left:16px;top:107px;width:120px;height:16px;font-size:12px"><span style="position:absolute;left:0;top:0"><svg width="13" height="12" viewBox="0 0 13 12" style="position:absolute;left:0;top:1px"><ellipse cx="6.5" cy="5.2" rx="6.2" ry="4.6" fill="#fff"/><path d="M2.2,8 L0.8,11.8 L5.5,9.5 Z" fill="#fff"/><circle cx="4" cy="5.2" r="0.8" fill="#35cca8"/><circle cx="6.5" cy="5.2" r="0.8" fill="#35cca8"/><circle cx="9" cy="5.2" r="0.8" fill="#35cca8"/></svg></span><span style="position:absolute;left:17px;top:-1px">评论次数</span></div><div class="cbig" style="left:208px;top:61.5px">8205</div><div class="csm" style="left:207px;top:107px;width:120px;height:16px;font-size:12px"><span style="position:absolute;left:0;top:0"><svg width="12" height="12" viewBox="0 0 12 12" style="position:absolute;left:0;top:1px"><circle cx="6" cy="3.3" r="2.9" fill="#fff"/><path d="M1.3,12 V9.5 Q1.3,6.8 4,6.8 H8 Q10.7,6.8 10.7,9.5 V12 Z" fill="#fff"/></svg></span><span style="position:absolute;left:13.5px;top:-1px">点赞次数</span></div></div>
</body></html>
